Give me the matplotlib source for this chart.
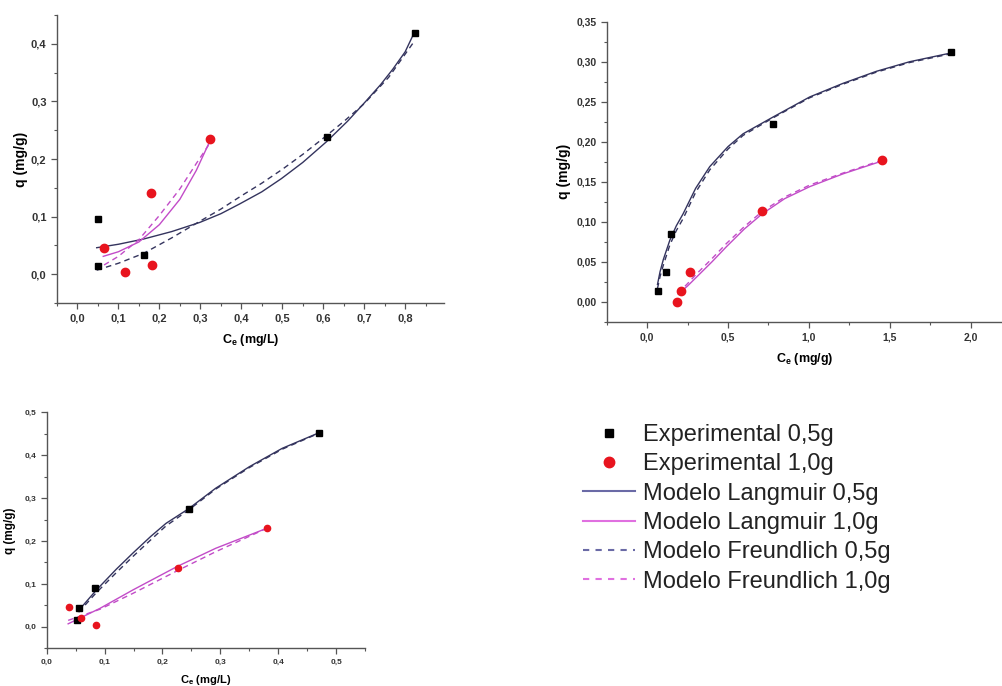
import matplotlib
matplotlib.use("Agg")
import matplotlib.pyplot as plt
from matplotlib.ticker import MultipleLocator, FuncFormatter
from matplotlib.lines import Line2D

plt.rcParams['font.family'] = ['Liberation Sans', 'DejaVu Sans']

# ---- panel 1 (top left) ----
p1_exp05_x = [0.05, 0.05, 0.163, 0.61, 0.823]
p1_exp05_y = [0.095, 0.015, 0.033, 0.239, 0.418]
p1_exp10_x = [0.065, 0.117, 0.18, 0.183, 0.323]
p1_exp10_y = [0.046, 0.004, 0.141, 0.016, 0.234]
p1_lang05_x = [0.047, 0.10, 0.161, 0.23, 0.299, 0.35, 0.396, 0.45, 0.498, 0.55, 0.608, 0.66, 0.705, 0.74, 0.77, 0.80, 0.82]
p1_lang05_y = [0.046, 0.052, 0.061, 0.074, 0.090, 0.105, 0.122, 0.143, 0.166, 0.194, 0.230, 0.266, 0.301, 0.329, 0.356, 0.386, 0.416]
p1_freu05_x = [0.047, 0.10, 0.161, 0.23, 0.299, 0.35, 0.40, 0.45, 0.50, 0.55, 0.60, 0.65, 0.70, 0.76, 0.82]
p1_freu05_y = [0.007, 0.019, 0.036, 0.063, 0.092, 0.113, 0.136, 0.158, 0.182, 0.208, 0.236, 0.265, 0.296, 0.342, 0.402]
p1_lang10_x = [0.063, 0.10, 0.15, 0.20, 0.25, 0.29, 0.32]
p1_lang10_y = [0.031, 0.039, 0.056, 0.086, 0.130, 0.180, 0.226]
p1_freu10_x = [0.065, 0.10, 0.15, 0.20, 0.25, 0.29, 0.32]
p1_freu10_y = [0.016, 0.031, 0.060, 0.102, 0.148, 0.192, 0.224]

# ---- panel 2 (top right) ----
p2_exp05_x = [0.064, 0.115, 0.146, 0.779, 1.88]
p2_exp05_y = [0.0133, 0.038, 0.085, 0.222, 0.312]
p2_exp10_x = [0.185, 0.212, 0.262, 0.711, 1.452]
p2_exp10_y = [0.0, 0.014, 0.037, 0.114, 0.177]
p2_lang05_x = [0.064, 0.08, 0.10, 0.14, 0.18, 0.222, 0.30, 0.387, 0.50, 0.593, 0.779, 1.005, 1.211, 1.417, 1.623, 1.88]
p2_lang05_y = [0.022, 0.038, 0.053, 0.077, 0.095, 0.110, 0.142, 0.169, 0.194, 0.210, 0.231, 0.256, 0.273, 0.288, 0.300, 0.311]
p2_freu05_x = [0.064, 0.08, 0.10, 0.14, 0.18, 0.222, 0.30, 0.387, 0.50, 0.593, 0.779, 1.005, 1.211, 1.417, 1.623, 1.88]
p2_freu05_y = [0.017, 0.032, 0.046, 0.071, 0.089, 0.104, 0.137, 0.165, 0.191, 0.208, 0.230, 0.255, 0.272, 0.287, 0.299, 0.310]
p2_lang10_x = [0.192, 0.25, 0.305, 0.40, 0.49, 0.60, 0.711, 0.85, 1.005, 1.211, 1.452]
p2_lang10_y = [0.010, 0.020, 0.031, 0.050, 0.069, 0.091, 0.110, 0.129, 0.144, 0.160, 0.176]
p2_freu10_x = [0.192, 0.25, 0.305, 0.40, 0.49, 0.60, 0.711, 0.85, 1.005, 1.211, 1.452]
p2_freu10_y = [0.011, 0.023, 0.035, 0.054, 0.073, 0.094, 0.113, 0.131, 0.146, 0.161, 0.177]

# ---- panel 3 (bottom left) ----
p3_exp05_x = [0.055, 0.053, 0.084, 0.245, 0.470]
p3_exp05_y = [0.043, 0.015, 0.090, 0.275, 0.452]
p3_exp10_x = [0.038, 0.060, 0.085, 0.226, 0.381]
p3_exp10_y = [0.047, 0.021, 0.005, 0.138, 0.230]
p3_lang05_x = [0.055, 0.086, 0.12, 0.149, 0.18, 0.206, 0.245, 0.292, 0.35, 0.407, 0.47]
p3_lang05_y = [0.038, 0.086, 0.134, 0.172, 0.211, 0.241, 0.275, 0.323, 0.373, 0.416, 0.452]
p3_freu05_x = [0.055, 0.086, 0.12, 0.149, 0.18, 0.206, 0.245, 0.292, 0.35, 0.407, 0.47]
p3_freu05_y = [0.034, 0.080, 0.126, 0.164, 0.203, 0.235, 0.272, 0.321, 0.371, 0.414, 0.451]
p3_lang10_x = [0.037, 0.092, 0.149, 0.226, 0.292, 0.381]
p3_lang10_y = [0.007, 0.043, 0.086, 0.141, 0.183, 0.230]
p3_freu10_x = [0.037, 0.092, 0.149, 0.226, 0.292, 0.381]
p3_freu10_y = [0.015, 0.041, 0.078, 0.131, 0.175, 0.230]

legend_labels = ["Experimental 0,5g", "Experimental 1,0g", "Modelo Langmuir 0,5g",
                 "Modelo Langmuir 1,0g", "Modelo Freundlich 0,5g", "Modelo Freundlich 1,0g"]

NAVY = "#34345e"
PINK = "#c24cc8"


def comma_fmt(dec):
    return FuncFormatter(lambda v, pos: f"{v:.{dec}f}".replace(".", ","))


def style_axes(ax, xmaj, xmin, ymaj, ymin, xdec, ydec, fs):
    for s in ("top", "right"):
        ax.spines[s].set_visible(False)
    for s in ("left", "bottom"):
        ax.spines[s].set_color("#555555")
        ax.spines[s].set_linewidth(1.0)
    ax.xaxis.set_major_locator(MultipleLocator(xmaj))
    ax.xaxis.set_minor_locator(MultipleLocator(xmin))
    ax.yaxis.set_major_locator(MultipleLocator(ymaj))
    ax.yaxis.set_minor_locator(MultipleLocator(ymin))
    ax.xaxis.set_major_formatter(comma_fmt(xdec))
    ax.yaxis.set_major_formatter(comma_fmt(ydec))
    ax.tick_params(which="major", length=4, width=0.9, color="#555555",
                   labelsize=fs, labelcolor="#333333")
    ax.tick_params(which="minor", length=2.5, width=0.8, color="#555555")
    for lab in ax.get_xticklabels() + ax.get_yticklabels():
        lab.set_fontweight("bold")


def draw_panel(ax, d, ms_sq, ms_ci):
    ax.plot(d[4], d[5], color=NAVY, lw=1.0)
    ax.plot(d[6], d[7], color=NAVY, lw=1.0, ls=(0, (4, 3)))
    ax.plot(d[8], d[9], color=PINK, lw=1.0)
    ax.plot(d[10], d[11], color=PINK, lw=1.0, ls=(0, (4, 3)))
    ax.plot(d[0], d[1], ls="none", marker="s", color="black", ms=ms_sq)
    ax.plot(d[2], d[3], ls="none", marker="o", color="#e8141e", ms=ms_ci)


fig = plt.figure(figsize=(10.03, 6.86), dpi=100)

# top left
ax1 = fig.add_axes([0.0568, 0.5583, 0.3859, 0.4198])
draw_panel(ax1, [p1_exp05_x, p1_exp05_y, p1_exp10_x, p1_exp10_y,
                 p1_lang05_x, p1_lang05_y, p1_freu05_x, p1_freu05_y,
                 p1_lang10_x, p1_lang10_y, p1_freu10_x, p1_freu10_y], 5, 6)
ax1.set_xlim(-0.05, 0.895)
ax1.set_ylim(-0.05, 0.45)
style_axes(ax1, 0.1, 0.05, 0.1, 0.05, 1, 1, 8)
ax1.set_xlabel(r"C$_\mathregular{e}$ (mg/L)", fontsize=9, fontweight="bold", labelpad=6)
ax1.set_ylabel("q (mg/g)", fontsize=10, fontweight="bold", labelpad=2)

# top right
ax2 = fig.add_axes([0.6049, 0.5306, 0.3951, 0.4378])
draw_panel(ax2, [p2_exp05_x, p2_exp05_y, p2_exp10_x, p2_exp10_y,
                 p2_lang05_x, p2_lang05_y, p2_freu05_x, p2_freu05_y,
                 p2_lang10_x, p2_lang10_y, p2_freu10_x, p2_freu10_y], 5, 6)
ax2.set_xlim(-0.25, 2.2)
ax2.set_ylim(-0.025, 0.35)
style_axes(ax2, 0.5, 0.25, 0.05, 0.025, 1, 2, 7.5)
ax2.set_xlabel(r"C$_\mathregular{e}$ (mg/g)", fontsize=9, fontweight="bold", labelpad=6)
ax2.set_ylabel("q (mg/g)", fontsize=10, fontweight="bold", labelpad=4)

# bottom left
ax3 = fig.add_axes([0.0466, 0.0550, 0.3173, 0.3440])
draw_panel(ax3, [p3_exp05_x, p3_exp05_y, p3_exp10_x, p3_exp10_y,
                 p3_lang05_x, p3_lang05_y, p3_freu05_x, p3_freu05_y,
                 p3_lang10_x, p3_lang10_y, p3_freu10_x, p3_freu10_y], 4, 4.5)
ax3.set_xlim(0, 0.55)
ax3.set_ylim(-0.05, 0.5)
style_axes(ax3, 0.1, 0.05, 0.1, 0.05, 1, 1, 6)
ax3.set_xlabel(r"C$_\mathregular{e}$ (mg/L)", fontsize=8, fontweight="bold", labelpad=5)
ax3.set_ylabel("q (mg/g)", fontsize=8.5, fontweight="bold", labelpad=6)

# legend
handles = [
    Line2D([], [], ls="none", marker="s", color="black", ms=5.5),
    Line2D([], [], ls="none", marker="o", color="#e8141e", ms=7.5),
    Line2D([], [], color="#6a6aa6", lw=1.5),
    Line2D([], [], color="#e070e0", lw=1.5),
    Line2D([], [], color="#6a6aa6", lw=1.5, ls=(0, (3, 3))),
    Line2D([], [], color="#e070e0", lw=1.5, ls=(0, (3, 3))),
]
fig.legend(handles, legend_labels, loc="upper left",
           bbox_to_anchor=(0.581, 1 - 424 / 686), frameon=False,
           handlelength=2.2, handletextpad=0.34,
           labelspacing=0.31, borderpad=0, borderaxespad=0,
           prop={"size": 17})
for t in fig.legends[0].get_texts():
    t.set_color("#222222")

fig.savefig("out.png", dpi=100)
